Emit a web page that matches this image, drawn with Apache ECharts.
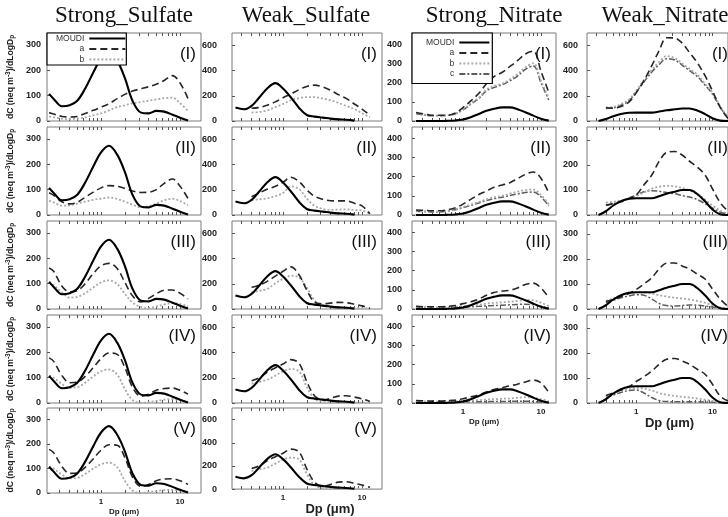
<!DOCTYPE html>
<html>
<head>
<meta charset="utf-8">
<title>Size distributions</title>
<script src="https://cdn.jsdelivr.net/npm/echarts@6/dist/echarts.min.js"></script>
<style>
  html, body { margin: 0; background: #fff; }
  #chart { width: 728px; height: 517px; }
</style>
</head>
<body>
<div id="chart"></div>
<script>
// size bins, Dp in um (shared by every panel, null = no value at that bin)
var dp = [0.22, 0.25, 0.32, 0.4, 0.5, 0.63, 0.8, 1.0, 1.26, 1.6, 2.0, 2.5, 3.2, 4.0, 5.0, 6.3, 8.0, 10, 12.6, 16];

var colTitles = ['Strong_Sulfate', 'Weak_Sulfate', 'Strong_Nitrate', 'Weak_Nitrate'];
var caseLabels = ['(I)', '(II)', '(III)', '(IV)', '(V)'];
var xTickLabels = [1, 10];

// Strong sulfate
var ssMoudi = [107, 88, 58, 62, 80, 128, 192, 247, 273, 238, 170, 80, 33, 30, 40, 37, 25, 13, 2, null];
var ssA = [
  [33, 28, 18, 16, 18, 30, 42, 55, 68, 88, 105, 118, 127, 135, 145, 160, 179, 150, 88, null],
  [88, 78, 52, 44, 50, 70, 90, 107, 116, 113, 105, 95, 89, 90, 100, 125, 142, 113, 65, null],
  [162, 150, 90, 68, 72, 100, 140, 170, 180, 160, 105, 52, 28, 42, 60, 74, 75, 62, 40, null],
  [178, 165, 108, 80, 82, 105, 140, 175, 197, 192, 140, 62, 27, 35, 50, 57, 59, 50, 35, null],
  [178, 165, 108, 80, 82, 105, 140, 175, 197, 195, 145, 65, 27, 35, 50, 57, 58, 50, 35, null]
];
var ssB = [
  [17, 15, 9, 7, 9, 14, 22, 30, 42, 55, 62, 70, 75, 80, 85, 90, 92, 70, 40, null],
  [57, 50, 37, 38, 45, 53, 60, 65, 69, 63, 53, 40, 31, 35, 45, 58, 64, 55, 38, null],
  [107, 95, 65, 45, 48, 62, 85, 105, 113, 98, 60, 25, 8, 3, 10, 18, 23, 20, 10, null],
  [108, 100, 75, 60, 62, 80, 105, 125, 132, 112, 55, 12, 1, 3, 8, 13, 15, 11, 5, null],
  [108, 100, 75, 60, 62, 78, 100, 117, 124, 105, 50, 10, 0, 3, 8, 12, 13, 10, 5, null]
];

// Weak sulfate
var wsMoudi = [null, 107, 93, 120, 187, 259, 301, 259, 187, 104, 48, 35, 27, 19, 13, 10, 3, null, null, null];
var wsA = [
  [null, null, null, 101, 107, 125, 152, 185, 215, 250, 275, 285, 270, 245, 210, 180, 135, 95, 45, null],
  [null, null, null, 145, 175, 205, 228, 260, 300, 265, 200, 149, 125, 113, 112, 112, 93, 72, 10, null],
  [null, null, null, 173, 190, 220, 262, 300, 335, 270, 150, 55, 42, 47, 53, 50, 38, 25, 5, null],
  [null, null, null, 177, 200, 245, 280, 310, 345, 315, 170, 58, 24, 38, 55, 58, 47, 33, 12, null],
  [null, null, null, 177, 200, 245, 280, 310, 345, 320, 175, 60, 22, 40, 60, 63, 50, 35, 15, null]
];
var wsB = [
  [null, null, null, 67, 72, 85, 110, 135, 165, 182, 190, 190, 178, 165, 145, 120, 95, 62, 30, null],
  [null, null, null, 120, 125, 133, 150, 175, 228, 205, 130, 75, 48, 40, 43, 45, 40, 35, 12, null],
  [null, null, null, 133, 145, 160, 205, 240, 265, 250, 170, 70, 25, 15, 12, 11, 9, 6, 3, null],
  [null, null, null, 155, 168, 185, 218, 252, 270, 250, 128, 35, 9, 5, 5, 5, 4, 3, 2, null],
  [null, null, null, 157, 170, 185, 220, 255, 272, 255, 130, 35, 8, 5, 5, 5, 4, 3, 2, null]
];

// Strong nitrate
var snMoudi = [null, 0, 0, 0, 0, 1, 3, 8, 20, 37, 53, 64, 71, 71, 62, 46, 28, 12, 2, null];
var snA = [
  [null, 44, 36, 30, 30, 30, 42, 70, 105, 145, 195, 232, 255, 285, 315, 350, 365, 260, 150, null],
  [null, 26, 24, 22, 22, 27, 38, 57, 82, 107, 125, 145, 157, 169, 190, 212, 225, 192, 115, null],
  [null, 14, 12, 12, 12, 14, 18, 28, 38, 52, 72, 86, 94, 98, 110, 128, 135, 110, 60, null],
  [null, 13, 11, 10, 10, 12, 15, 22, 32, 42, 58, 70, 80, 90, 98, 110, 120, 105, 55, null]
];
var snB = [
  [null, 40, 33, 28, 28, 30, 40, 62, 92, 122, 165, 182, 195, 218, 245, 280, 302, 210, 120, null],
  [null, 22, 20, 18, 18, 22, 30, 42, 55, 68, 82, 93, 100, 112, 122, 130, 133, 105, 55, null],
  [null, 12, 10, 8, 8, 9, 12, 15, 18, 22, 28, 32, 35, 38, 42, 47, 45, 33, 15, null],
  [null, 10, 8, 7, 7, 7, 8, 10, 12, 15, 18, 20, 22, 24, 27, 30, 28, 20, 10, null]
];
var snC = [
  [null, 38, 31, 27, 27, 29, 38, 58, 88, 118, 158, 175, 190, 210, 235, 270, 288, 200, 110, null],
  [null, 20, 18, 16, 16, 20, 27, 38, 50, 63, 76, 86, 93, 102, 110, 117, 120, 95, 48, null],
  [null, 10, 8, 7, 7, 7, 8, 10, 12, 14, 16, 18, 20, 22, 24, 25, 22, 15, 5, null],
  [null, 8, 6, 5, 5, 5, 5, 6, 6, 7, 7, 8, 8, 9, 9, 9, 8, 5, 2, null]
];

// Weak nitrate
var wnMoudi = [null, null, 0, 15, 38, 55, 65, 67, 67, 67, 75, 85, 93, 100, 100, 84, 55, 22, 3, 0];
var wnA = [
  [null, null, null, 106, 102, 115, 150, 225, 320, 440, 560, 662, 660, 620, 545, 465, 360, 240, 110, 20],
  [null, null, null, 40, 46, 53, 65, 80, 120, 160, 215, 250, 254, 240, 215, 192, 160, 105, 50, 15],
  [null, null, null, 30, 38, 50, 62, 78, 100, 125, 160, 183, 184, 172, 160, 140, 120, 80, 40, 10],
  [null, null, null, 30, 40, 52, 65, 86, 105, 128, 155, 175, 178, 168, 155, 135, 115, 75, 28, 8]
];
var wnB = [
  [null, null, null, 108, 112, 135, 170, 242, 325, 407, 470, 517, 500, 458, 415, 370, 295, 225, 120, 25],
  [null, null, null, 50, 53, 58, 65, 75, 90, 105, 113, 117, 115, 108, 98, 85, 62, 38, 18, 5],
  [null, null, null, 32, 42, 55, 62, 66, 66, 62, 55, 50, 45, 42, 38, 32, 25, 15, 6, 2],
  [null, null, null, 28, 38, 48, 55, 60, 58, 50, 40, 33, 28, 25, 22, 18, 13, 8, 3, 1]
];
var wnC = [
  [null, null, null, 100, 104, 125, 160, 230, 310, 390, 450, 495, 485, 445, 400, 355, 285, 215, 110, 20],
  [null, null, null, 38, 45, 55, 68, 80, 93, 97, 95, 90, 85, 78, 72, 62, 45, 28, 12, 3],
  [null, null, null, 25, 35, 45, 52, 57, 55, 40, 22, 14, 12, 14, 16, 15, 12, 8, 3, 1],
  [null, null, null, 22, 32, 42, 50, 52, 40, 22, 10, 6, 5, 5, 5, 5, 4, 3, 1, 0]
];

var columns = [
  {moudi: ssMoudi, a: ssA, b: ssB},
  {moudi: wsMoudi, a: wsA, b: wsB},
  {moudi: snMoudi, a: snA, b: snB, c: snC},
  {moudi: wnMoudi, a: wnA, b: wnB, c: wnC}
];

// ---- layout (pixels) ----
var colLeft = [47, 232, 412, 587];
var colWidth = [154, 150, 144, 146];
var titleCenter = [124, 306, 494, 665];
var rowTop = [33, 127, 221, 315, 408];
var boxH = 88;
var xMin = [0.207, 0.226, 0.222, 0.226];
var xMax = [18.4, 17.9, 15.6, 16.0];
var labelMargin = [6, 15, 10, 9];
var dpNameSize = [8, 13, 8, 13];
var dpNameGap = [15, 9, 15, 8];
var dpNameShift = [0, 46, 0, 24];
var minorTicks = [0.3, 0.4, 0.5, 0.6, 0.7, 0.8, 0.9, 1, 2, 3, 4, 5, 6, 7, 8, 9, 10];

var sans = 'Arial, "Liberation Sans", sans-serif';
var styles = {
  MOUDI: {color: '#000', width: 2.1, type: 'solid'},
  a: {color: '#262626', width: 1.6, type: [7, 4]},
  b: {color: '#a9a9a9', width: 1.8, type: [2, 2]},
  c: {color: '#5c5c5c', width: 1.5, type: [6, 2, 2, 2]}
};

function yScale(c, r) {
  if (c === 0) return {max: 347, interval: 100};
  if (c === 1) return {max: 700, interval: 200};
  if (c === 2) return {max: 460, interval: 100};
  return r === 0 ? {max: 700, interval: 200} : {max: 352, interval: 100};
}

function pairs(vals) {
  var out = [];
  vals.forEach(function (v, i) { if (v != null) out.push([dp[i], v]); });
  return out;
}

var grids = [], xAxes = [], yAxes = [], series = [], titles = [];

colTitles.forEach(function (t, c) {
  titles.push({
    text: t, left: titleCenter[c], top: 4, textAlign: 'center', padding: 0,
    textStyle: {fontFamily: '"Times New Roman", "Liberation Serif", serif', fontSize: 23, fontWeight: 'normal', color: '#111'}
  });
});

columns.forEach(function (col, c) {
  var nRows = col.a.length;
  for (var r = 0; r < nRows; r++) {
    var g = grids.length;
    var last = r === nRows - 1;
    grids.push({
      left: colLeft[c], top: rowTop[r], width: colWidth[c], height: boxH,
      show: true, borderColor: '#7a7a7a', borderWidth: 1, containLabel: false
    });
    var ys = yScale(c, r);
    xAxes.push({
      type: 'log', logBase: 10, gridIndex: g, position: 'bottom', min: xMin[c], max: xMax[c],
      axisLine: {show: false},
      axisTick: {show: true, inside: true, length: 3, customValues: minorTicks, lineStyle: {color: '#555'}},
      axisLabel: {show: last, customValues: xTickLabels, fontSize: 8, fontWeight: 'bold', color: '#222', margin: 5, fontFamily: sans},
      splitLine: {show: false},
      name: last ? 'Dp (\u03bcm)' : '', nameLocation: 'middle', nameGap: dpNameGap[c],
      nameTextStyle: {fontSize: dpNameSize[c], fontWeight: 'bold', color: '#222', fontFamily: sans, verticalAlign: 'top',
        padding: [0, 0, 0, dpNameShift[c]]}
    });
    xAxes.push({
      type: 'log', logBase: 10, gridIndex: g, position: 'top', min: xMin[c], max: xMax[c],
      axisLine: {show: false},
      axisTick: {show: true, inside: true, length: 3, customValues: minorTicks, lineStyle: {color: '#555'}},
      axisLabel: {show: false}, splitLine: {show: false}
    });
    yAxes.push({
      type: 'value', gridIndex: g, min: 0, max: ys.max, interval: ys.interval,
      axisLine: {show: false},
      axisTick: {show: true, inside: true, length: 3, lineStyle: {color: '#555'}},
      axisLabel: {showMaxLabel: false, fontSize: 9, fontWeight: 'bold', color: '#222', margin: labelMargin[c], fontFamily: sans},
      splitLine: {show: false},
      name: c === 0 ? 'dC (neq m{sup|-3})/dLogD{sub|p}' : '',
      nameLocation: 'middle', nameGap: 31, nameRotate: 90,
      nameTextStyle: {
        fontSize: 8.6, fontWeight: 'bold', color: '#222', fontFamily: sans, lineHeight: 11,
        rich: {
          sup: {fontSize: 6.5, fontWeight: 'bold', color: '#222', fontFamily: sans, verticalAlign: 'top', lineHeight: 11},
          sub: {fontSize: 6.5, fontWeight: 'bold', color: '#222', fontFamily: sans, verticalAlign: 'bottom', lineHeight: 11}
        }
      }
    });
    var xi = g * 2;
    ['c', 'b', 'a'].forEach(function (k) {
      if (!col[k]) return;
      series.push({
        name: k, type: 'line', xAxisIndex: xi, yAxisIndex: g, data: pairs(col[k][r]),
        smooth: 0.35, symbol: 'none', color: styles[k].color, lineStyle: styles[k], clip: true, z: 2
      });
    });
    series.push({
      name: 'MOUDI', type: 'line', xAxisIndex: xi, yAxisIndex: g, data: pairs(col.moudi),
      smooth: 0.35, symbol: 'none', color: styles.MOUDI.color, lineStyle: styles.MOUDI, clip: true, z: 3
    });
    titles.push({
      text: caseLabels[r], left: colLeft[c] + colWidth[c] - 5, top: rowTop[r] + 13, textAlign: 'right', padding: 0,
      textStyle: {fontFamily: sans, fontSize: 17, fontWeight: 'normal', color: '#111'}
    });
  }
});

var legendBase = {
  orient: 'vertical', align: 'right', backgroundColor: '#fff', borderColor: '#000', borderWidth: 1.2,
  itemHeight: 7, itemGap: 1.5,
  itemStyle: {opacity: 0},
  textStyle: {fontSize: 8.5, color: '#333', fontFamily: sans}
};

var option = {
  animation: false,
  backgroundColor: '#fff',
  title: titles,
  legend: [
    Object.assign({}, legendBase, {data: ['MOUDI', 'a', 'b'], left: 47, top: 33, itemWidth: 36, padding: [1, 0, 1, 9]}),
    Object.assign({}, legendBase, {data: ['MOUDI', 'a', 'b', 'c'], left: 412, top: 33, itemWidth: 30, padding: [5, 2, 5, 14]})
  ],
  grid: grids,
  xAxis: xAxes,
  yAxis: yAxes,
  series: series
};

var chart = echarts.init(document.getElementById('chart'), null, {renderer: 'canvas'});
chart.setOption(option);
</script>
</body>
</html>
